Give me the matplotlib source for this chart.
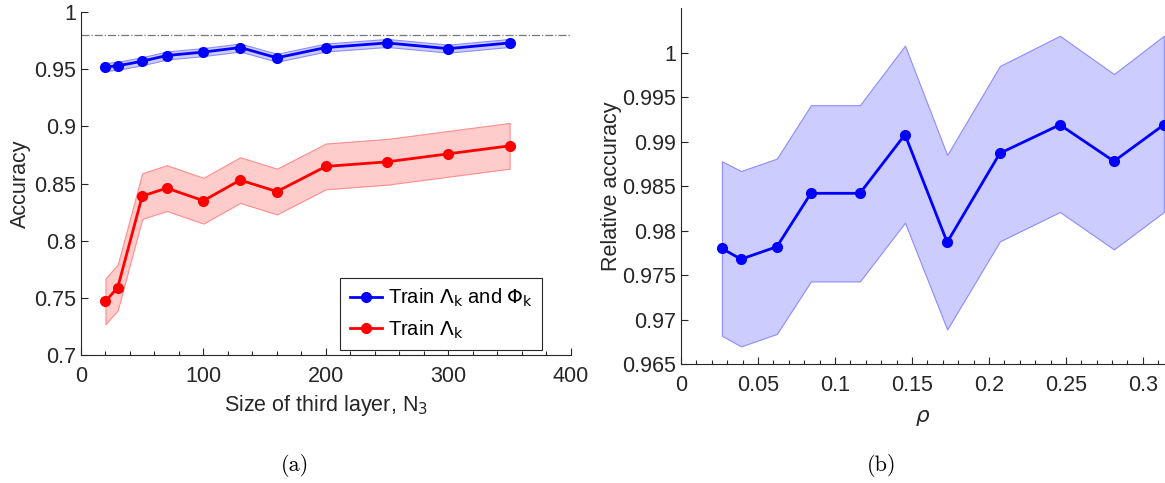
import numpy as np
import matplotlib
matplotlib.use('Agg')
import matplotlib.pyplot as plt
from matplotlib.ticker import MultipleLocator

# data
n3 = [20, 30, 50, 70, 100, 130, 160, 200, 250, 300, 350]
acc_both = [0.952, 0.953, 0.957, 0.962, 0.965, 0.969, 0.960, 0.969, 0.973, 0.968, 0.973]
acc_both_err = [0.0035, 0.0035, 0.0035, 0.0035, 0.0035, 0.0035, 0.0035, 0.0035, 0.0035, 0.0035, 0.0035]
acc_lam = [0.747, 0.759, 0.839, 0.846, 0.835, 0.853, 0.843, 0.865, 0.869, 0.876, 0.883]
acc_lam_err = [0.02, 0.02, 0.02, 0.02, 0.02, 0.02, 0.02, 0.02, 0.02, 0.02, 0.02]
ref_acc = 0.98

rho = [0.0266, 0.0390, 0.0623, 0.0844, 0.1162, 0.1455, 0.1729, 0.2071, 0.2461, 0.2812, 0.3136]
rel_acc = [0.9780, 0.9768, 0.9782, 0.9842, 0.9842, 0.9908, 0.9787, 0.9887, 0.9919, 0.9878, 0.9919]
rel_upper = [0.9878, 0.9867, 0.9881, 0.9941, 0.9941, 1.0008, 0.9885, 0.9985, 1.0019, 0.9976, 1.0019]
rel_lower = [0.9682, 0.9670, 0.9684, 0.9743, 0.9743, 0.9809, 0.9689, 0.9788, 0.9821, 0.9779, 0.9821]

plt.rcParams['font.family'] = ['Liberation Sans', 'DejaVu Sans']
fs = 15.5
axcol = '#262626'

fig = plt.figure(figsize=(11.65, 4.83), dpi=100)
ax1 = fig.add_axes([0.0695, 0.265, 0.4205, 0.710])
ax2 = fig.add_axes([0.5845, 0.246, 0.4145, 0.737])

def style(ax):
    for s in ['top', 'right']:
        ax.spines[s].set_visible(False)
    for s in ['left', 'bottom']:
        ax.spines[s].set_color(axcol)
        ax.spines[s].set_linewidth(0.8)
    ax.tick_params(axis='both', which='both', direction='in', colors=axcol, labelsize=fs, width=0.8)
    ax.tick_params(axis='both', which='major', length=5)
    ax.tick_params(axis='x', which='minor', length=3)
    ax.tick_params(axis='x', pad=8)

# (a)
a = np.array(acc_both); ae = np.array(acc_both_err)
l = np.array(acc_lam); le = np.array(acc_lam_err)
ax1.fill_between(n3, a - ae, a + ae, facecolor=(0.8, 0.8, 1.0), edgecolor=(0.55, 0.55, 1.0), linewidth=0.8)
ax1.fill_between(n3, l - le, l + le, facecolor=(1.0, 0.8, 0.8), edgecolor=(1.0, 0.55, 0.55), linewidth=0.8)
ax1.axhline(ref_acc, color='#777777', linestyle='-.', linewidth=0.9)
ax1.plot(n3, acc_both, 'o-', color='blue', linewidth=2, markersize=7, label=r'Train $\Lambda_\mathrm{k}$ and $\Phi_\mathrm{k}$')
ax1.plot(n3, acc_lam, 'o-', color='red', linewidth=2, markersize=7, label=r'Train $\Lambda_\mathrm{k}$')
ax1.set_xlim(0, 400)
ax1.set_ylim(0.7, 1.0)
ax1.set_yticks([0.7, 0.75, 0.8, 0.85, 0.9, 0.95, 1])
ax1.set_yticklabels(['0.7', '0.75', '0.8', '0.85', '0.9', '0.95', '1'])
ax1.xaxis.set_major_locator(MultipleLocator(100))
ax1.xaxis.set_minor_locator(MultipleLocator(20))
style(ax1)
ax1.set_xlabel(r'Size of third layer, N$_\mathrm{3}$', fontsize=fs, color=axcol, labelpad=4)
ax1.set_ylabel('Accuracy', fontsize=fs, color=axcol, labelpad=2)
leg = ax1.legend(loc='lower right', fontsize=14.5, frameon=True, fancybox=False, framealpha=1,
                 edgecolor=axcol, borderpad=0.45, handlelength=1.6, handletextpad=0.3,
                 labelspacing=0.45, borderaxespad=0, bbox_to_anchor=(0.941, 0.015))
leg.get_frame().set_linewidth(0.8)

# (b)
ax2.fill_between(rho, rel_lower, rel_upper, facecolor=(0.8, 0.8, 1.0), edgecolor=(0.55, 0.55, 1.0), linewidth=0.8)
ax2.plot(rho, rel_acc, 'o-', color='blue', linewidth=2, markersize=7)
ax2.set_xlim(0, rho[-1])
ax2.set_ylim(0.965, 1.005)
ax2.set_yticks([0.965, 0.97, 0.975, 0.98, 0.985, 0.99, 0.995, 1])
ax2.set_yticklabels(['0.965', '0.97', '0.975', '0.98', '0.985', '0.99', '0.995', '1'])
ax2.set_xticks([0, 0.05, 0.1, 0.15, 0.2, 0.25, 0.3])
ax2.set_xticklabels(['0', '0.05', '0.1', '0.15', '0.2', '0.25', '0.3'])
ax2.xaxis.set_minor_locator(MultipleLocator(0.01))
style(ax2)
ax2.set_xlabel(r'$\rho$', fontsize=fs, color=axcol, labelpad=8)
ax2.set_ylabel('Relative accuracy', fontsize=fs, color=axcol, labelpad=0)

fig.text(0.253, 0.037, '(a)', fontsize=16, family='cmr10', ha='center', va='center')
fig.text(0.757, 0.037, '(b)', fontsize=16, family='cmr10', ha='center', va='center')

fig.savefig('out.png', dpi=100)
